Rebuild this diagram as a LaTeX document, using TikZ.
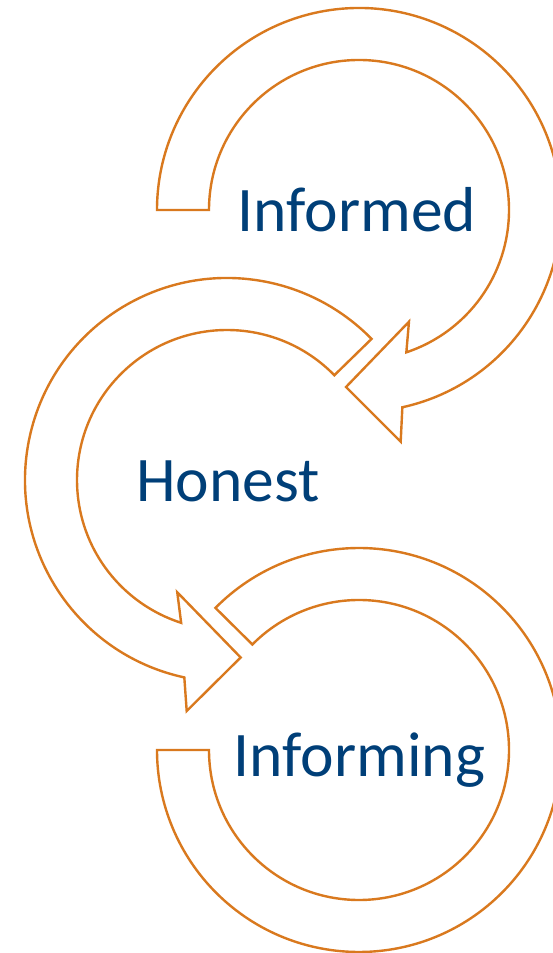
\documentclass[tikz,border=0pt]{standalone}
\usepackage{fontspec}
\setmainfont{Carlito}
\definecolor{bandorange}{RGB}{217,121,30}
\definecolor{wordblue}{RGB}{0,63,120}

\begin{document}
\begin{tikzpicture}[x=1pt, y=1pt,
band/.style={draw=bandorange, line width=2.4pt, fill=white, line join=miter},
word/.style={text=wordblue, font=\fontsize{63.5}{76}\selectfont, anchor=base, inner sep=0pt}]
\useasboundingbox (0,0) rectangle (552,953);
	\coordinate (c1) at (359,743);
	\coordinate (c2) at (227,473);
	\coordinate (c3) at (359,203);
	% top arrow, clockwise
	\draw[band] ([shift={(c1)}]180:202pt) -- ([shift={(c1)}]180:150pt)
	arc[start angle=180, end angle=-71.6, radius=150pt]
	-- ([shift={(c1)}]-65.9:122.4pt) -- ([shift={(c1)}]-94.2:177.5pt)
	-- ([shift={(c1)}]-79.8:235.4pt) -- ([shift={(c1)}]-77.6:202pt)
	arc[start angle=-77.6, end angle=180, radius=202pt] -- cycle;
	% middle arrow, counterclockwise
	\draw[band] ([shift={(c2)}]44.3:202pt) -- ([shift={(c2)}]44.3:150pt)
	arc[start angle=44.3, end angle=252.2, radius=150pt]
	-- ([shift={(c2)}]246.1:122.8pt) -- ([shift={(c2)}]274.4:178pt)
	-- ([shift={(c2)}]260.1:234.5pt) -- ([shift={(c2)}]257.8:202pt)
	arc[start angle=257.8, end angle=44.3, radius=202pt] -- cycle;
	% bottom band, no head
	\draw[band] ([shift={(c3)}]180:202pt) -- ([shift={(c3)}]180:150pt)
	arc[start angle=180, end angle=495.3, radius=150pt]
	-- ([shift={(c3)}]135.3:202pt)
	arc[start angle=135.3, end angle=-180, radius=202pt] -- cycle;
	\node[word] (informed) at (357,721) {Informed};
	\node[word] (honest) at (228,451) {Honest};
	\node[word] (informing) at (359.5,176) {Informing};
\end{tikzpicture}
\end{document}
